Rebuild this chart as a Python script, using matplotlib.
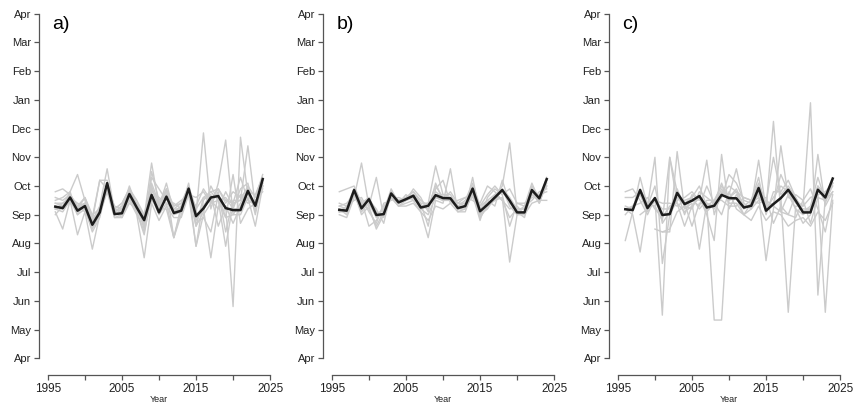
"""Recreate the three-panel timing chart (a, b, c) and write out.png."""
import matplotlib
matplotlib.use("Agg")
import matplotlib.pyplot as plt
import numpy as np

plt.rcParams["font.family"] = ["Liberation Sans", "DejaVu Sans"]

nan = np.nan
YEARS = list(range(1996, 2025))
MONTHS = ["Apr", "May", "Jun", "Jul", "Aug", "Sep", "Oct",
          "Nov", "Dec", "Jan", "Feb", "Mar", "Apr"]
PANEL_LABELS = ["a)", "b)", "c)"]

# values are months after 1 April (Sep = 5, Oct = 6)
A_MEAN = [5.28, 5.23, 5.60, 5.14, 5.30, 4.65, 5.08, 6.10, 5.02, 5.05, 5.72, 5.25, 4.81, 5.69, 5.08,
          5.63, 5.06, 5.14, 5.91, 4.95, 5.22, 5.60, 5.65, 5.23, 5.16, 5.16, 5.83, 5.31, 6.24]
A_SITES = [
    [5.8, 5.9, 5.7, 5.3, 5.6, 4.9, 6.2, 6.2, 5.2, 5.4, 5.9, 5.5, 5.0, 6.1, 5.4, 5.9, 5.3, 5.4, 6.0, 5.2, 5.6, 5.8, 5.9, 5.5, 5.4, 5.5, 6.0, 5.6, 6.4],
    [5.1, 4.5, 5.5, 4.3, 5.1, 3.8, 5.0, 5.8, 4.9, 4.9, 5.5, 5.0, 3.5, 5.4, 4.8, 5.3, 4.9, 4.9, 5.7, 3.9, 5.0, 5.4, 5.5, 4.9, 5.0, 5.0, 5.6, 4.6, 6.0],
    [5.4, 5.3, 5.8, 6.4, 5.5, 4.8, 5.3, 6.6, 5.1, 5.3, 5.8, 5.4, 4.9, 6.8, 5.3, 6.1, 5.1, 5.3, 5.8, 5.0, 7.85, 5.2, 6.1, 7.6, 5.0, 5.4, 5.9, 5.1, 6.2],
    [5.2, 5.1, 5.5, 5.0, 5.2, 4.4, 4.9, 6.0, 4.9, 5.0, 5.6, 5.1, 4.4, 5.6, 5.0, 5.4, 4.2, 5.0, 5.8, 4.9, 5.3, 5.7, 4.6, 5.3, 1.8, 7.7, 5.7, 5.2, 6.1],
    [5.3, 5.2, 5.7, 5.2, 5.6, 5.0, 5.2, 6.0, 5.3, 5.2, 6.0, 5.3, 4.6, 6.5, 5.5, 5.7, 5.3, 5.5, 5.7, 5.6, 5.8, 5.4, 5.8, 4.4, 5.5, 5.5, 7.4, 5.3, 6.0],
    [5.0, 5.3, 5.4, 5.2, 5.4, 4.6, 5.1, 5.9, 5.1, 4.9, 5.4, 5.2, 4.8, 5.5, 5.2, 5.2, 4.2, 5.2, 5.9, 4.6, 5.1, 6.0, 5.5, 3.9, 5.4, 6.3, 5.5, 5.4, 6.0],
    [5.4, 5.4, 5.6, 5.4, 5.3, 4.7, 5.0, 6.0, 5.2, 5.1, 5.8, 5.3, 4.9, 5.9, 5.3, 5.8, 5.2, 5.2, 6.1, 4.7, 4.9, 4.4, 5.7, 4.9, 6.4, 4.7, 5.2, 5.4, 5.9],
    [5.2, 5.3, 5.6, 5.1, 5.3, 4.5, 5.0, 6.1, 5.0, 5.2, 5.7, 5.2, 4.7, 5.7, 5.1, 5.6, 5.0, 5.1, 5.9, 4.8, 5.2, 3.5, 5.3, 5.3, 4.7, 5.3, 5.8, 5.7, 6.3],
    [5.6, 5.5, 5.7, 5.3, 5.4, 4.8, 6.2, 5.9, 5.1, 5.2, 5.6, 5.4, 4.9, 6.0, 5.2, 5.9, 4.2, 5.3, 5.9, 3.9, 5.5, 5.8, 5.5, 5.6, 5.2, 5.9, 6.1, 5.0, 6.2],
    [5.3, 5.2, 5.6, 5.2, 5.3, 4.8, 5.1, 6.0, 5.0, 5.1, 5.7, 5.3, 4.8, 5.7, 5.1, 5.6, 5.1, 5.2, 5.9, 5.0, 5.2, 5.6, 5.7, 5.2, 5.2, 5.2, 5.8, 5.3, 6.2],
    [5.5, 5.6, 5.8, 5.0, 5.4, 4.6, 5.1, 5.9, 5.2, 5.4, 5.9, 5.3, 4.5, 6.3, 5.9, 5.5, 5.4, 5.2, 5.7, 5.3, 5.9, 5.5, 5.9, 5.4, 5.8, 5.6, 5.9, 5.2, 6.1],
    [5.2, 5.4, 5.6, 5.3, 5.1, 4.7, 5.2, 6.0, 5.1, 5.3, 5.6, 5.1, 4.3, 5.8, 5.6, 5.4, 5.2, 5.4, 5.8, 4.6, 5.6, 5.5, 5.2, 5.8, 5.3, 5.7, 5.4, 5.5, 5.8],
]

B_MEAN = [5.17, 5.14, 5.86, 5.22, 5.54, 4.99, 5.02, 5.74, 5.43, 5.54, 5.66, 5.25, 5.31, 5.68, 5.58,
          5.57, 5.23, 5.30, 5.91, 5.12, 5.35, 5.60, 5.86, 5.49, 5.08, 5.08, 5.86, 5.57, 6.24]
B_SITES = [
    [5.8, 5.9, 6.0, 5.4, 5.6, 5.0, 5.2, 5.8, 5.5, 5.6, 5.8, 5.4, 5.4, 6.7, 5.7, 5.7, 5.3, 5.4, 6.0, 5.2, 5.5, 5.7, 5.9, 5.6, 5.2, 5.2, 6.0, 5.6, 6.2],
    [5.0, 4.9, 5.6, 6.8, 5.3, 4.5, 5.0, 5.6, 5.3, 5.4, 5.5, 5.1, 4.2, 5.5, 5.4, 6.6, 5.1, 5.2, 5.7, 4.9, 5.3, 5.5, 5.6, 3.35, 5.0, 5.0, 5.7, 5.5, 6.0],
    [5.1, 5.2, 5.8, 5.0, 5.3, 6.3, 4.9, 5.7, 5.4, 5.5, 5.7, 5.2, 5.3, 5.6, 5.5, 5.5, 5.2, 5.2, 6.3, 5.0, 5.2, 5.6, 6.0, 7.5, 5.1, 4.9, 5.8, 5.4, 6.1],
    [5.2, 5.1, 5.9, 5.2, 5.5, 5.2, 4.7, 5.8, 5.4, 5.5, 5.6, 5.3, 5.2, 5.8, 5.6, 5.6, 5.2, 5.3, 5.9, 5.1, 5.4, 5.5, 5.9, 5.3, 5.0, 5.1, 5.9, 5.6, 6.2],
    [5.2, 5.0, 5.7, 5.1, 5.4, 4.9, 5.1, 5.6, 5.3, 5.3, 5.4, 5.1, 4.8, 5.3, 5.2, 5.4, 5.1, 5.1, 5.8, 4.9, 5.3, 5.7, 5.5, 5.2, 5.3, 5.0, 5.4, 5.5, 5.5],
    [5.3, 5.2, 5.8, 5.3, 5.6, 5.1, 5.0, 5.7, 5.5, 5.6, 5.7, 5.3, 5.4, 5.7, 5.7, 5.6, 5.4, 5.4, 5.6, 5.4, 6.0, 5.8, 5.5, 4.9, 5.2, 5.2, 5.8, 5.6, 6.0],
    [5.4, 5.3, 5.9, 5.4, 5.2, 4.6, 5.1, 5.9, 5.4, 5.6, 5.8, 5.5, 5.3, 6.0, 5.6, 5.6, 5.3, 5.5, 6.1, 5.3, 5.5, 5.3, 6.2, 5.4, 5.1, 5.3, 6.1, 5.5, 6.3],
    [5.1, 5.1, 5.9, 5.2, 5.5, 5.0, 5.0, 5.8, 5.3, 5.5, 5.6, 5.2, 5.0, 5.6, 5.5, 5.5, 5.2, 5.3, 5.9, 5.0, 5.4, 5.6, 5.8, 5.5, 5.1, 5.1, 5.8, 5.4, 6.2],
    [5.3, 5.4, 5.7, 5.5, 4.6, 4.8, 5.3, 5.6, 5.4, 5.7, 5.5, 5.4, 4.6, 5.9, 6.2, 5.4, 5.5, 5.6, 5.7, 4.8, 5.6, 5.9, 5.7, 4.6, 5.4, 5.3, 5.5, 5.8, 5.9],
    [5.1, 5.3, 5.5, 5.6, 5.1, 4.7, 5.4, 5.5, 5.6, 5.5, 5.9, 5.6, 5.1, 6.1, 5.5, 5.8, 5.4, 5.6, 5.5, 5.3, 5.7, 6.0, 5.7, 5.9, 5.4, 5.4, 5.6, 5.7, 5.8],
]

C_MEAN = [5.19, 5.16, 5.86, 5.23, 5.58, 4.99, 5.02, 5.76, 5.37, 5.49, 5.65, 5.25, 5.31, 5.69, 5.58,
          5.57, 5.25, 5.31, 5.93, 5.14, 5.37, 5.58, 5.87, 5.49, 5.08, 5.08, 5.87, 5.60, 6.26]
C_SITES = [
    [4.1, 5.1, 6.3, 5.3, 7.0, 3.3, 5.0, 5.6, 5.4, 5.6, 6.0, 5.3, 5.5, 6.0, 5.6, 5.9, 5.3, 5.5, 6.3, 5.0, 5.8, 5.8, 6.2, 5.6, 5.1, 5.3, 6.3, 5.5, 6.0],
    [5.8, 5.9, 5.5, 5.0, 5.6, 1.5, 7.0, 5.8, 5.0, 5.7, 5.5, 6.9, 5.0, 5.8, 5.7, 6.6, 5.4, 5.2, 5.8, 5.2, 5.6, 6.0, 5.8, 5.2, 5.0, 5.2, 5.7, 5.8, 6.1],
    [5.2, 5.0, 3.7, 5.4, 5.3, 4.8, 7.0, 5.4, 4.6, 5.3, 5.6, 5.0, 4.1, 7.1, 5.2, 5.7, 5.3, 5.3, 6.9, 5.2, 8.25, 5.1, 5.7, 5.2, 4.7, 5.0, 7.1, 5.3, 5.8],
    [nan, nan, nan, nan, nan, 4.4, 4.4, 7.2, 5.2, 5.4, 3.8, 5.4, 1.33, 1.33, 5.6, 5.8, 5.2, 5.4, 5.7, 3.4, 5.2, 7.4, 5.6, 5.5, 5.3, 8.9, 2.2, 5.6, 6.1],
    [5.2, 5.3, 5.7, 5.1, 5.5, 5.0, 5.0, 5.5, 5.6, 5.8, 5.5, 5.4, 5.2, 5.6, 6.4, 6.1, 5.5, 5.4, 5.6, 5.3, 5.4, 5.6, 1.6, 5.3, 5.3, 5.6, 5.7, 1.6, 5.5],
    [nan, nan, nan, nan, 4.5, 4.4, 4.5, 5.1, 5.3, 5.5, 5.3, 6.0, 5.4, 5.0, 5.8, 5.2, 5.0, 4.8, 5.3, 4.8, 5.1, 5.0, 4.6, 4.8, 4.9, 4.6, 5.1, 4.8, 5.4],
    [5.3, 5.2, 5.9, 5.4, 5.5, 5.2, 5.2, 5.7, 5.4, 4.6, 5.4, 5.4, 5.3, 5.9, 5.5, 5.6, 5.0, 5.4, 6.0, 5.1, 5.4, 6.4, 5.8, 5.4, 5.2, 5.2, 6.0, 5.4, 6.1],
    [5.0, 5.3, 5.4, 5.6, 5.2, 4.9, 5.3, 5.4, 5.1, 5.3, 5.6, 5.1, 5.4, 6.1, 5.4, 5.4, 5.0, 5.2, 5.5, 5.6, 4.7, 5.3, 5.0, 5.7, 5.5, 5.9, 5.2, 4.4, 5.7],
    [5.6, 5.6, 5.8, 5.3, 6.0, 4.7, 5.1, 5.9, 5.3, 5.2, 5.8, 5.6, 5.4, 5.7, 6.0, 5.8, 5.6, 5.5, 6.1, 5.4, 7.0, 5.7, 6.0, 5.6, 5.1, 5.2, 6.0, 5.7, 6.2],
    [nan, nan, 5.0, 5.2, 5.5, 5.4, 5.4, 5.3, 5.5, 5.6, 5.2, 5.5, 5.5, 5.5, 5.3, 5.3, 5.6, 5.5, 5.4, 5.5, 5.3, 5.1, 5.0, 4.9, 5.5, 4.7, 5.6, 5.5, 5.8],
]

PANELS = [(A_MEAN, A_SITES), (B_MEAN, B_SITES), (C_MEAN, C_SITES)]
XTICKS = [1995, 2000, 2005, 2010, 2015, 2020, 2025]
XLABELS = ["1995", "", "2005", "", "2015", "", "2025"]

fig = plt.figure(figsize=(8.56, 4.09), dpi=100)
lefts = [39 / 856, 323 / 856, 609 / 856]
for left, (mean, sites), lab in zip(lefts, PANELS, PANEL_LABELS):
    ax = fig.add_axes([left, 37 / 409, 240 / 856, 372 / 409])
    for s in sites:
        ax.plot(YEARS, s, color="#cbcbcb", lw=1.0, zorder=1)
    ax.plot(YEARS, mean, color="#1c1c1c", lw=1.8, zorder=3)

    # R-style open axes: lines only span the tick range
    ax.set_xlim(1995 - 1.2, 2025 + 1.2)
    ax.set_ylim(-0.48, 12.48)
    for side in ("top", "right"):
        ax.spines[side].set_visible(False)
    ax.spines["left"].set_bounds(0, 12)
    ax.spines["bottom"].set_bounds(1995, 2025)
    ax.spines["bottom"].set_position(("outward", 2))
    for side in ("left", "bottom"):
        ax.spines[side].set_color("#555555")
        ax.spines[side].set_linewidth(0.9)
    ax.set_yticks(range(13))
    ax.set_yticklabels(MONTHS, fontsize=8)
    ax.set_xticks(XTICKS)
    ax.set_xticklabels(XLABELS, fontsize=8.5)
    ax.tick_params(axis="y", length=3.5, width=0.9, color="#555555", pad=2, labelcolor="#222222")
    ax.tick_params(axis="x", length=3.5, width=0.9, color="#555555", pad=2.5, labelcolor="#222222")
    ax.set_xlabel("Year", fontsize=6.5, labelpad=0, color="#222222")
    ax.text(0.055, 0.935, lab, transform=ax.transAxes, fontsize=14, ha="left", va="center")

fig.savefig("out.png", dpi=100)
